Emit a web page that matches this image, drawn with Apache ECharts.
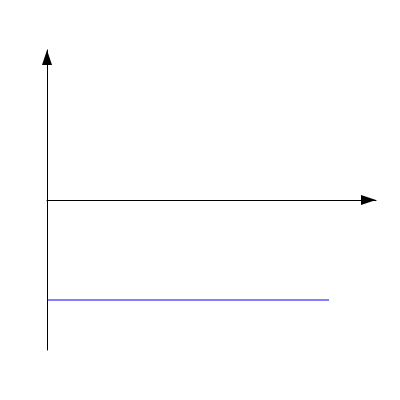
<!DOCTYPE html>
<html>
<head>
<meta charset="utf-8">
<script src="https://cdn.jsdelivr.net/npm/echarts@6/dist/echarts.min.js"></script>
<style>html,body{margin:0;padding:0;background:#fff}#c{width:400px;height:400px}</style>
</head>
<body>
<div id="c"></div>
<script>
var xValues = [0, 6];
var yValues = [-2, -2];
var xRange = [0, 7];
var yRange = [-3, 3];

var chart = echarts.init(document.getElementById('c'), null, {renderer: 'canvas'});
chart.setOption({
  animation: false,
  backgroundColor: '#fff',
  grid: {left: 47, right: 24, top: 50, bottom: 50},
  xAxis: {
    type: 'value', min: xRange[0], max: xRange[1],
    axisLine: {onZero: true, symbol: ['none', 'triangle'], symbolSize: [10, 15], symbolOffset: [0, -7.5], lineStyle: {color: '#000', width: 1}},
    axisTick: {show: false}, axisLabel: {show: false}, splitLine: {show: false}
  },
  yAxis: {
    type: 'value', min: yRange[0], max: yRange[1],
    axisLine: {show: true, onZero: true, symbol: ['none', 'triangle'], symbolSize: [10, 15], symbolOffset: [0, -7.5], lineStyle: {color: '#000', width: 1}},
    axisTick: {show: false}, axisLabel: {show: false}, splitLine: {show: false}
  },
  series: [{
    type: 'line',
    data: xValues.map(function (x, i) { return [x, yValues[i]]; }),
    showSymbol: false,
    lineStyle: {color: '#0000ff', width: 1}
  }]
});
</script>
</body>
</html>
